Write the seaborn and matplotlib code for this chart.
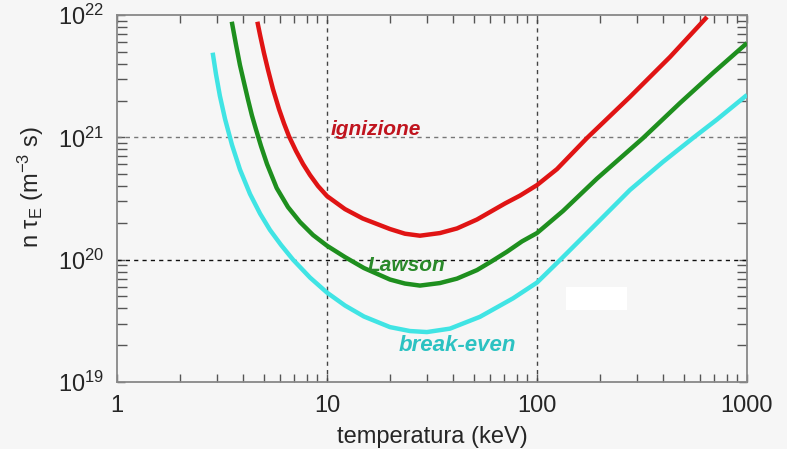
import numpy as np
import pandas as pd
import matplotlib
matplotlib.use("Agg")
import matplotlib.pyplot as plt
import seaborn as sns
from matplotlib.patches import Rectangle
from matplotlib.ticker import FixedLocator, NullFormatter

# ---- data (temperature keV, n*tau_E in m^-3 s) ----
T_breakeven = [2.855, 2.96, 3.09, 3.27, 3.53, 3.85, 4.30, 4.80, 5.35, 6.04, 6.89,
               8.30, 10.0, 12.18, 15.0, 19.95, 24.8, 29.9, 38.5, 53.5, 76.9,
               100, 128.7, 193, 277, 398, 553, 720, 1000]
nt_breakeven = [4.92e21, 3.29e21, 2.18e21, 1.41e21, 8.65e20, 5.46e20, 3.44e20,
                2.38e20, 1.75e20, 1.32e20, 1.00e20, 7.14e19, 5.38e19, 4.22e19,
                3.43e19, 2.81e19, 2.61e19, 2.56e19, 2.73e19, 3.41e19, 4.83e19,
                6.50e19, 9.93e19, 1.99e20, 3.71e20, 6.30e20, 9.87e20, 1.40e21,
                2.22e21]

T_lawson = [3.52, 3.69, 3.85, 4.03, 4.21, 4.39, 4.59, 4.85, 5.18, 5.76, 6.52, 7.44,
            8.58, 10.0, 12.18, 15.0, 19.95, 23.5, 27.7, 34.5, 41.6, 51.8, 61.1,
            71.9, 84.8, 100, 133, 193, 320, 480, 689, 1000]
nt_lawson = [8.81e21, 5.68e21, 3.90e21, 2.78e21, 2.02e21, 1.51e21, 1.16e21, 8.49e20,
             6.05e20, 3.85e20, 2.69e20, 2.03e20, 1.59e20, 1.30e20, 1.05e20, 8.54e19,
             6.88e19, 6.38e19, 6.14e19, 6.44e19, 7.0e19, 8.22e19, 9.74e19, 1.16e20,
             1.41e20, 1.65e20, 2.50e20, 4.60e20, 9.87e20, 1.91e21, 3.36e21, 5.90e21]

T_ignition = [4.66, 4.80, 5.01, 5.24, 5.53, 5.91, 6.24, 6.59, 7.12, 7.69, 8.30, 9.06,
              10.0, 12.18, 14.8, 19.95, 23.5, 27.7, 34.5, 41.6, 51.8, 70.4, 83.0,
              100, 124.5, 173, 277, 430, 645]
nt_ignition = [8.81e21, 6.86e21, 4.89e21, 3.55e21, 2.48e21, 1.70e21, 1.30e21, 1.02e21,
               7.73e20, 6.05e20, 4.92e20, 4.0e20, 3.31e20, 2.59e20, 2.17e20, 1.78e20,
               1.63e20, 1.57e20, 1.65e20, 1.80e20, 2.13e20, 2.88e20, 3.34e20, 4.07e20,
               5.50e20, 9.87e20, 2.14e21, 4.54e21, 9.64e21]

curve_names = ["ignizione", "Lawson", "break-even"]
x_ticks = [1, 10, 100, 1000]
x_ticklabels = ["1", "10", "100", "1000"]
y_ticks = [1e19, 1e20, 1e21, 1e22]
y_ticklabels = ["10$^{19}$", "10$^{20}$", "10$^{21}$", "10$^{22}$"]

df = pd.concat([
    pd.DataFrame({"T": T_ignition, "nt": nt_ignition, "curve": curve_names[0]}),
    pd.DataFrame({"T": T_lawson, "nt": nt_lawson, "curve": curve_names[1]}),
    pd.DataFrame({"T": T_breakeven, "nt": nt_breakeven, "curve": curve_names[2]}),
], ignore_index=True)

sns.set_style("ticks")
plt.rcParams["font.family"] = ["Liberation Sans", "DejaVu Sans"]
plt.rcParams["mathtext.fontset"] = "custom"
plt.rcParams["mathtext.rm"] = "Liberation Sans"
plt.rcParams["mathtext.it"] = "Liberation Sans:italic"
plt.rcParams["mathtext.bf"] = "Liberation Sans:bold"

bg = "#f6f6f6"
line_colors = {"ignizione": "#e01414", "Lawson": "#1e8f1e", "break-even": "#40e4e4"}
text_colors = {"ignizione": "#c0141e", "Lawson": "#2a8a2a", "break-even": "#2cc2c2"}

fig = plt.figure(figsize=(7.87, 4.49), dpi=100, facecolor=bg)
ax = fig.add_axes([117/787, 1-382/449, 630/787, 367/449], facecolor=bg)
ax.set_xscale("log")
ax.set_yscale("log")
ax.set_xlim(1, 1000)
ax.set_ylim(1e19, 1e22)

# reference grid lines
for xv in [10, 100]:
    ax.axvline(xv, color="#444444", lw=1.0, ls=(0, (3, 3)), zorder=1)
ax.axhline(1e21, color="#777777", lw=1.0, ls=(0, (3, 3)), zorder=1)
ax.axhline(1e20, color="#111111", lw=1.0, ls=(0, (3, 3)), zorder=1)

sns.lineplot(data=df, x="T", y="nt", hue="curve", palette=line_colors,
             hue_order=curve_names, sort=False, estimator=None, lw=3.2,
             legend=False, ax=ax, zorder=3)
for ln in ax.get_lines():
    ln.set_solid_joinstyle("round")
    ln.set_solid_capstyle("butt")

# white box artefact
ax.add_patch(Rectangle((0.713, 0.196), 0.097, 0.063, transform=ax.transAxes,
                       facecolor="white", edgecolor="none", zorder=2))

# curve labels
ax.text(17.1, 1.15e21, "ignizione", color=text_colors["ignizione"], fontsize=15,
        fontweight="bold", fontstyle="italic", ha="center", va="center", zorder=4)
ax.text(24.0, 9.0e19, "Lawson", color=text_colors["Lawson"], fontsize=15,
        fontweight="bold", fontstyle="italic", ha="center", va="center", zorder=4)
ax.text(41.8, 1.97e19, "break-even", color=text_colors["break-even"], fontsize=16,
        fontweight="bold", fontstyle="italic", ha="center", va="center", zorder=4)

ax.xaxis.set_major_locator(FixedLocator(x_ticks))
ax.set_xticklabels(x_ticklabels)
ax.yaxis.set_major_locator(FixedLocator(y_ticks))
ax.set_yticklabels(y_ticklabels)
ax.xaxis.set_minor_formatter(NullFormatter())
ax.yaxis.set_minor_formatter(NullFormatter())

ax.tick_params(which="both", direction="in", top=True, right=True,
               color="#555555", width=1.0)
ax.tick_params(which="major", length=6, labelsize=17, pad=9)
ax.tick_params(which="minor", length=6)
ax.tick_params(axis="y", which="minor", length=7)

for s in ax.spines.values():
    s.set_color("#888888")
    s.set_linewidth(1.3)

ax.set_xlabel("temperatura (keV)", fontsize=17, labelpad=7)
ax.set_ylabel("n τ$_\\mathregular{E}$ (m$^{-3}$ s)", fontsize=17)
ax.yaxis.set_label_coords(-0.113, 0.53)

fig.savefig("out.png", dpi=100, facecolor=bg)
